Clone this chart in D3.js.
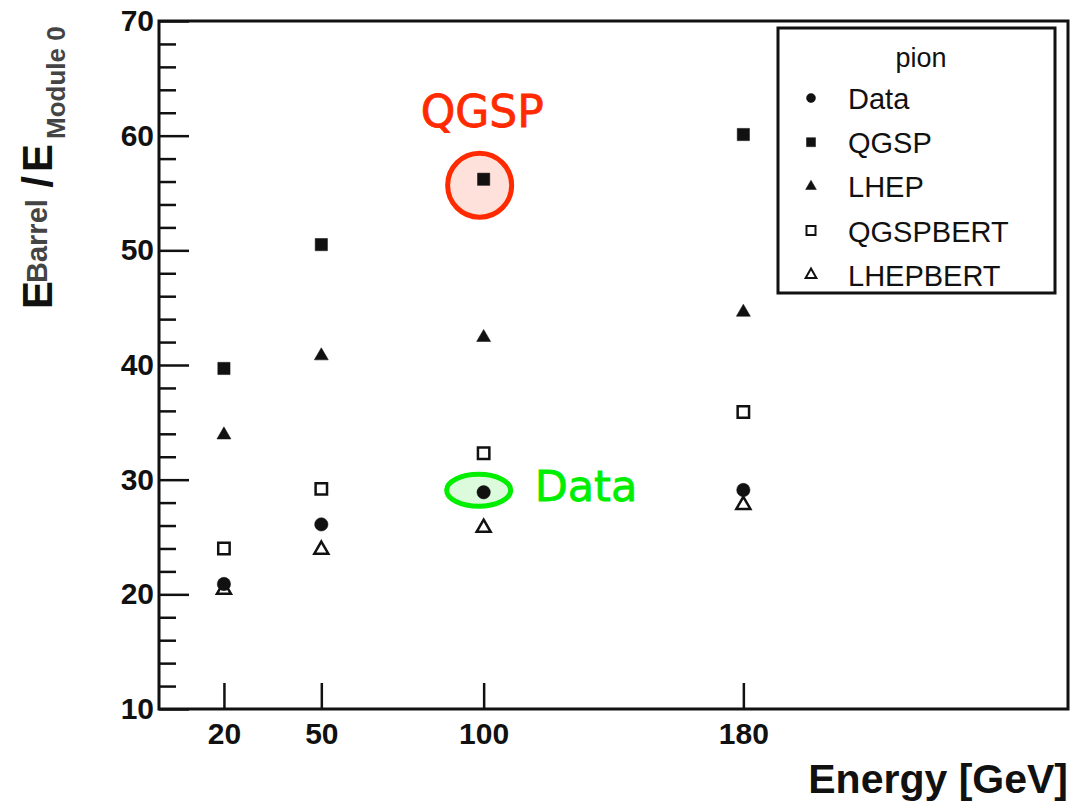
<!DOCTYPE html>
<html>
<head>
<meta charset="utf-8">
<script src="https://cdn.jsdelivr.net/npm/d3@7"></script>
<style>
  body { margin: 0; background: #fff; }
  svg { display: block; }
  .tick text { font-family: "Liberation Sans", Arial, sans-serif; font-weight: bold; font-size: 30px; fill: #111; }
</style>
</head>
<body>
<div id="chart"></div>
<script>
// values
var energies = [20, 50, 100, 180];
var dataVals = [20.9, 26.1, 28.9, 29.1];
var qgspVals = [39.7, 50.5, 56.2, 60.1];
var lhepVals = [33.9, 40.8, 42.4, 44.6];
var qgspbertVals = [24.0, 29.2, 32.3, 35.9];
var lhepbertVals = [20.4, 23.9, 25.8, 27.8];

var yMajor = [10, 20, 30, 40, 50, 60, 70];
var yMinor = d3.range(12, 70, 2).filter(function(d) { return d % 10 !== 0; });

var series = [
    {name: "QGSPBERT", values: qgspbertVals, shape: d3.symbolSquare, open: true},
    {name: "LHEPBERT", values: lhepbertVals, shape: d3.symbolTriangle, open: true},
    {name: "LHEP", values: lhepVals, shape: d3.symbolTriangle, open: false},
    {name: "QGSP", values: qgspVals, shape: d3.symbolSquare, open: false},
    {name: "Data", values: dataVals, shape: d3.symbolCircle, open: false}
];
var legendOrder = ["Data", "QGSP", "LHEP", "QGSPBERT", "LHEPBERT"];

var W = 1073, H = 806;
var margin = {top: 21, right: 5, bottom: 97, left: 159};

var svg = d3.select("#chart").append("svg")
    .attr("width", W)
    .attr("height", H);

var x = d3.scaleLinear().domain([0, 280]).range([margin.left, W - margin.right]);
var y = d3.scaleLinear().domain([10, 70]).range([H - margin.bottom, margin.top]);

// annotations (under the points)
var annFont = "'Comic Sans MS', 'DejaVu Sans', sans-serif";
var ann = svg.append("g");
ann.append("circle")
    .attr("cx", x(100) - 4)
    .attr("cy", y(qgspVals[2]) + 6)
    .attr("r", 32)
    .attr("fill", "#ffe1dc")
    .attr("stroke", "#ff2a00")
    .attr("stroke-width", 5);
ann.append("ellipse")
    .attr("cx", x(100) - 5)
    .attr("cy", y(dataVals[2]) - 2)
    .attr("rx", 32)
    .attr("ry", 16)
    .attr("fill", "#dcfbdc")
    .attr("stroke", "#00ee00")
    .attr("stroke-width", 5);
ann.append("text")
    .attr("x", x(100) - 63)
    .attr("y", y(qgspVals[2]) - 52)
    .attr("font-family", annFont)
    .attr("font-size", 44)
    .attr("fill", "#ff2a00")
    .attr("stroke", "#ff2a00")
    .attr("stroke-width", 0.8)
    .text("QGSP");
ann.append("text")
    .attr("x", x(100) + 51)
    .attr("y", y(dataVals[2]) + 9)
    .attr("font-family", annFont)
    .attr("font-size", 43)
    .attr("fill", "#00ee00")
    .attr("stroke", "#00ee00")
    .attr("stroke-width", 0.8)
    .text("Data");

// axes
var yAxisMinor = d3.axisLeft(y).tickValues(yMinor).tickSizeInner(-17).tickSizeOuter(0).tickFormat("");
var yAxis = d3.axisLeft(y).tickValues(yMajor).tickSizeInner(-30).tickSizeOuter(0).tickPadding(5);
var xAxis = d3.axisBottom(x).tickValues(energies).tickSizeInner(-26).tickSizeOuter(0).tickPadding(14);

var gyMinor = svg.append("g")
    .attr("transform", "translate(" + margin.left + ",0)")
    .call(yAxisMinor);
var gy = svg.append("g")
    .attr("transform", "translate(" + margin.left + ",0)")
    .call(yAxis);
var gx = svg.append("g")
    .attr("transform", "translate(0," + (H - margin.bottom) + ")")
    .call(xAxis);

[gyMinor, gy, gx].forEach(function(g) {
    g.select(".domain").remove();
    g.selectAll(".tick line").attr("stroke", "#111").attr("stroke-width", 2.5);
});

// frame
svg.append("rect")
    .attr("x", margin.left)
    .attr("y", margin.top)
    .attr("width", W - margin.right - margin.left)
    .attr("height", H - margin.bottom - margin.top)
    .attr("fill", "none")
    .attr("stroke", "#111")
    .attr("stroke-width", 3);

// axis titles
svg.append("text")
    .attr("x", W - margin.right)
    .attr("y", 793)
    .attr("text-anchor", "end")
    .attr("font-family", "'Liberation Sans', Arial, sans-serif")
    .attr("font-weight", "bold")
    .attr("font-size", 41)
    .attr("fill", "#111")
    .text("Energy [GeV]");

var ytitle = [
    {t: "E", x: 52, y: 309, size: 42, color: "#111", anchor: "start"},
    {t: "Barrel", x: 47, y: 283, size: 29, color: "#444", anchor: "start"},
    {t: "/", x: 52, y: 182, size: 42, color: "#111", anchor: "middle"},
    {t: "E", x: 52, y: 172, size: 42, color: "#111", anchor: "start"},
    {t: "Module 0", x: 65, y: 139, size: 26, color: "#444", anchor: "start"}
];
svg.selectAll(".ytitle")
    .data(ytitle)
    .enter().append("text")
    .attr("class", "ytitle")
    .attr("transform", function(d) { return "translate(" + d.x + "," + d.y + ") rotate(-90)"; })
    .attr("text-anchor", function(d) { return d.anchor; })
    .attr("font-family", "'Liberation Sans', Arial, sans-serif")
    .attr("font-weight", "bold")
    .attr("font-size", function(d) { return d.size; })
    .attr("fill", function(d) { return d.color; })
    .text(function(d) { return d.t; });

// markers
function markerSize(s, small) {
    if (s.shape === d3.symbolCircle) return small ? 64 : 140;
    if (s.shape === d3.symbolSquare) return small ? 81 : (s.open ? 130 : 150);
    return small ? 50 : 85;
}

function drawMarker(sel, s, small) {
    sel.attr("d", d3.symbol().type(s.shape).size(markerSize(s, small))())
        .attr("fill", s.open ? "#fff" : "#111")
        .attr("stroke", "#111")
        .attr("stroke-width", s.open ? (small ? 2 : 2.5) : 0.5);
}

var points = svg.append("g");
series.forEach(function(s) {
    points.selectAll(null)
        .data(s.values)
        .enter().append("path")
        .attr("transform", function(d, i) { return "translate(" + x(energies[i]) + "," + y(d) + ")"; })
        .call(drawMarker, s, false);
});

// legend
var legend = svg.append("g");
legend.append("rect")
    .attr("x", 778)
    .attr("y", 28)
    .attr("width", 277)
    .attr("height", 265)
    .attr("fill", "#fff")
    .attr("stroke", "#111")
    .attr("stroke-width", 3);
legend.append("text")
    .attr("x", 921)
    .attr("y", 67)
    .attr("text-anchor", "middle")
    .attr("font-family", "'Liberation Sans', Arial, sans-serif")
    .attr("font-size", 27)
    .attr("fill", "#111")
    .text("pion");

legendOrder.forEach(function(name, i) {
    var s = series.filter(function(d) { return d.name === name; })[0];
    var ly = 98 + i * 44.2;
    legend.append("path")
        .attr("transform", "translate(811," + ly + ")")
        .call(drawMarker, s, true);
    legend.append("text")
        .attr("x", 848)
        .attr("y", ly + 11)
        .attr("font-family", "'Liberation Sans', Arial, sans-serif")
        .attr("font-size", 29)
        .attr("fill", "#111")
        .text(name);
});
</script>
</body>
</html>
